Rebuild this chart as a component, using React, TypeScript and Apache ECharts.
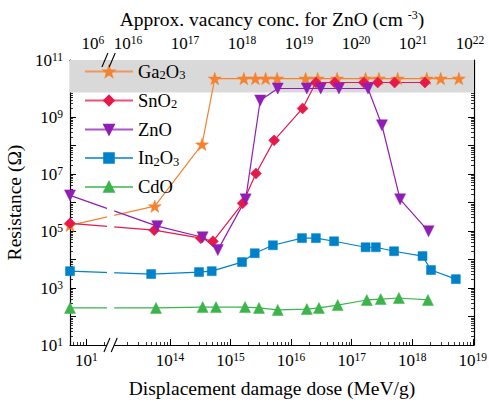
import React, { useEffect, useRef } from "react";
import * as echarts from "echarts";

const FONT = "Liberation Serif";

// ---------- data: log10 values ----------
// x = log10(displacement damage dose, MeV/g); first point of each series = unirradiated reference (left of the break)
// y = log10(resistance, ohm)
const seriesNames = ["Ga2O3", "SnO2", "ZnO", "In2O3", "CdO"];
const seriesColors = ["#f58231", "#e6194b", "#911eb4", "#0082c8", "#3cb44b"];

const ga2o3LogDose = [12.35, 13.75, 14.53, 14.74, 15.22, 15.41, 15.58, 15.77, 16.24, 16.44, 16.76, 17.23, 17.45, 17.76, 18.24, 18.47, 18.77];
const ga2o3LogR = [5.2, 5.87, 8.04, 10.35, 10.35, 10.35, 10.35, 10.35, 10.35, 10.35, 10.35, 10.35, 10.35, 10.35, 10.35, 10.35, 10.35];

const sno2LogDose = [12.35, 13.74, 14.51, 14.71, 15.2, 15.42, 15.72, 16.19, 16.41, 16.72, 17.2, 17.43, 17.71, 18.21];
const sno2LogR = [5.27, 5.03, 4.75, 4.64, 5.97, 7.02, 8.18, 9.3, 10.21, 10.21, 10.21, 10.21, 10.21, 10.21];

const znoLogDose = [12.35, 13.79, 14.54, 14.79, 15.25, 15.49, 15.78, 16.26, 16.49, 16.79, 17.27, 17.5, 17.8, 18.27];
const znoLogR = [6.25, 5.17, 4.78, 4.33, 6.11, 9.58, 10.0, 10.0, 10.0, 10.0, 10.0, 8.71, 6.11, 4.99];

const in2o3LogDose = [12.35, 13.69, 14.48, 14.69, 15.19, 15.4, 15.7, 16.18, 16.41, 16.71, 17.23, 17.4, 17.7, 18.17, 18.31, 18.72];
const in2o3LogR = [3.59, 3.49, 3.56, 3.59, 3.91, 4.22, 4.5, 4.75, 4.75, 4.64, 4.43, 4.43, 4.29, 4.12, 3.63, 3.31];

const cdoLogDose = [12.35, 13.77, 14.54, 14.76, 15.24, 15.47, 15.78, 16.26, 16.46, 16.77, 17.25, 17.48, 17.78, 18.26];
const cdoLogR = [2.3, 2.3, 2.33, 2.33, 2.33, 2.3, 2.23, 2.26, 2.3, 2.4, 2.58, 2.61, 2.65, 2.58];

// saturation band (log10 ohm)
const bandLogR = [9.86, 11];

// ---------- axes ----------
const bottomRange = [12.35, 19.02];
const topRange = [14.98, 22.07];
const yRange = [1, 11];
const breakRange = [12.96, 13.08]; // bottom-axis units

const bottomTickValues = [12.62, 14, 15, 16, 17, 18, 19];
const bottomTickTexts = ["1", "14", "15", "16", "17", "18", "19"];
const topTickValues = [15.38, 16, 17, 18, 19, 20, 21, 22];
const topTickTexts = ["6", "16", "17", "18", "19", "20", "21", "22"];
const yMajorValues = [1, 2, 3, 4, 5, 6, 7, 8, 9, 10, 11];
const yLabelValues = [1, 3, 5, 7, 9, 11];

const L = [2, 3, 4, 5, 6, 7, 8, 9].map((k) => Math.log10(k));

function minorList(fromDec: number, toDec: number, lo: number, hi: number) {
  const out: number[] = [];
  for (let n = fromDec; n <= toDec; n++) {
    for (const l of L) {
      const v = +(n + l).toFixed(4);
      if (v > lo && v < hi) out.push(v);
    }
  }
  return out;
}

const bottomMinor = [
  ...[11.62, 12.62].flatMap((m) => L.map((l) => +(m + l).toFixed(4))).filter((v) => v > bottomRange[0] && v < breakRange[0] - 0.02),
  ...minorList(13, 18, breakRange[1] + 0.02, bottomRange[1]),
];
const topMinor = [
  ...[14.38, 15.38].flatMap((m) => L.map((l) => +(m + l).toFixed(4))).filter((v) => v > topRange[0] && v < 15.6),
  ...minorList(15, 21, 15.82, topRange[1]),
];
const yMinor = minorList(1, 10, yRange[0], yRange[1]);

const STAR =
  "path://M0,-10 L2.35,-3.24 L9.51,-3.09 L3.8,1.24 L5.88,8.09 L0,4 L-5.88,8.09 L-3.8,1.24 L-9.51,-3.09 L-2.35,-3.24 Z";

const supRich = {
  b: { fontFamily: FONT, fontSize: 17, lineHeight: 19, color: "#000" },
  s: { fontFamily: FONT, fontSize: 11.5, lineHeight: 11, verticalAlign: "top", color: "#000" },
};

function pickText(values: number[], texts: string[], v: number) {
  const i = values.findIndex((t) => Math.abs(t - v) < 1e-6);
  return i < 0 ? "" : `{b|10}{s|${texts[i]}}`;
}

function legendText(name: string) {
  return name
    .split(/(\d)/)
    .filter((t) => t.length > 0)
    .map((t) => (/^\d$/.test(t) ? `{sub|${t}}` : `{n|${t}}`))
    .join("");
}

export default function App() {
  const ref = useRef<HTMLDivElement>(null);

  useEffect(() => {
    if (!ref.current) return;
    const chart = echarts.init(ref.current, undefined, { renderer: "svg" });

    const mk = (i: number, xs: number[], ys: number[], symbol: string, size: number, rotate = 0) => ({
      type: "line",
      name: seriesNames[i],
      xAxisIndex: 0,
      yAxisIndex: 0,
      data: xs.map((x, j) => [x, ys[j]]),
      symbol,
      symbolSize: size,
      symbolRotate: rotate,
      symbolKeepAspect: true,
      showAllSymbol: true,
      lineStyle: { color: seriesColors[i], width: 1.2 },
      itemStyle: { color: seriesColors[i], borderColor: seriesColors[i], borderWidth: 0.5 },
      z: 2,
      clip: true,
    });

    const minorAxisX = (pos: "bottom" | "top", range: number[], vals: number[]) => ({
      type: "value",
      position: pos,
      min: range[0],
      max: range[1],
      axisLine: { show: false },
      axisTick: { show: true, inside: true, length: 3, customValues: vals, lineStyle: { color: "#000", width: 0.8 } },
      axisLabel: { show: false },
      splitLine: { show: false },
    });
    const minorAxisY = (pos: "left" | "right") => ({
      type: "value",
      position: pos,
      min: yRange[0],
      max: yRange[1],
      axisLine: { show: false },
      axisTick: { show: true, inside: true, length: 3, customValues: yMinor, lineStyle: { color: "#000", width: 0.8 } },
      axisLabel: { show: false },
      splitLine: { show: false },
    });

    const option: any = {
      animation: false,
      backgroundColor: "#fff",
      textStyle: { fontFamily: FONT },
      grid: { left: 70, right: 15, top: 60, bottom: 58, containLabel: false, outerBoundsMode: "none" },
      legend: {
        data: seriesNames,
        orient: "vertical",
        left: 79,
        top: 57,
        itemWidth: 48,
        itemHeight: 12,
        itemGap: 9.5,
        z: 10,
        lineStyle: { width: 2, opacity: 0.75 },
        formatter: (name: string) => legendText(name),
        textStyle: {
          fontFamily: FONT,
          color: "#000",
          rich: {
            n: { fontFamily: FONT, fontSize: 18.5, lineHeight: 20, color: "#000" },
            sub: { fontFamily: FONT, fontSize: 12.5, lineHeight: 12, verticalAlign: "bottom", color: "#000" },
          },
        },
      },
      xAxis: [
        {
          type: "value",
          position: "bottom",
          min: bottomRange[0],
          max: bottomRange[1],
          name: "Displacement damage dose (MeV/g)",
          nameLocation: "middle",
          nameGap: 33,
          nameTextStyle: { fontFamily: FONT, fontSize: 19.5, color: "#000" },
          axisLine: { show: true, lineStyle: { color: "#000", width: 1.2 } },
          axisTick: { show: true, inside: true, length: 6, customValues: bottomTickValues, lineStyle: { color: "#000", width: 1 } },
          axisLabel: {
            show: true,
            margin: 6,
            fontFamily: FONT,
            customValues: bottomTickValues,
            formatter: (v: number) => pickText(bottomTickValues, bottomTickTexts, v),
            rich: supRich,
          },
          splitLine: { show: false },
        },
        minorAxisX("bottom", bottomRange, bottomMinor),
        {
          type: "value",
          position: "top",
          min: topRange[0],
          max: topRange[1],
          name: "{t|Approx. vacancy conc. for ZnO (cm }{s|-3}{t|)}",
          nameLocation: "middle",
          nameGap: 30,
          nameTextStyle: {
            fontFamily: FONT,
            fontSize: 19.5,
            color: "#000",
            rich: {
              t: { fontFamily: FONT, fontSize: 19.5, lineHeight: 21, color: "#000" },
              s: { fontFamily: FONT, fontSize: 12, lineHeight: 12, verticalAlign: "top", color: "#000" },
            },
          },
          axisLine: { show: true, lineStyle: { color: "#000", width: 1.2 } },
          axisTick: { show: true, inside: true, length: 6, customValues: topTickValues, lineStyle: { color: "#000", width: 1 } },
          axisLabel: {
            show: true,
            margin: 7,
            fontFamily: FONT,
            customValues: topTickValues,
            formatter: (v: number) => pickText(topTickValues, topTickTexts, v),
            rich: supRich,
          },
          splitLine: { show: false },
        },
        minorAxisX("top", topRange, topMinor),
      ],
      yAxis: [
        {
          type: "value",
          position: "left",
          min: yRange[0],
          max: yRange[1],
          name: "Resistance (Ω)",
          nameLocation: "middle",
          nameGap: 42,
          nameTextStyle: { fontFamily: FONT, fontSize: 19.5, color: "#000" },
          axisLine: { show: true, lineStyle: { color: "#000", width: 1.2 } },
          axisTick: { show: true, inside: true, length: 6, customValues: yMajorValues, lineStyle: { color: "#000", width: 1 } },
          axisLabel: {
            show: true,
            margin: 7,
            fontFamily: FONT,
            customValues: yLabelValues,
            formatter: (v: number) => `{b|10}{s|${Math.round(v)}}`,
            rich: supRich,
          },
          splitLine: { show: false },
        },
        minorAxisY("left"),
        {
          type: "value",
          position: "right",
          min: yRange[0],
          max: yRange[1],
          axisLine: { show: true, lineStyle: { color: "#000", width: 1.2 } },
          axisTick: { show: true, inside: true, length: 6, customValues: yMajorValues, lineStyle: { color: "#000", width: 1 } },
          axisLabel: { show: false },
          splitLine: { show: false },
        },
        minorAxisY("right"),
      ],
      series: [
        {
          type: "line",
          name: "band",
          xAxisIndex: 0,
          yAxisIndex: 0,
          data: [],
          z: 1,
          silent: true,
          markArea: {
            silent: true,
            itemStyle: { color: "#d9d9d9" },
            data: [[{ xAxis: bottomRange[0], yAxis: bandLogR[0] }, { xAxis: bottomRange[1], yAxis: bandLogR[1] }]],
          },
        },
        mk(0, ga2o3LogDose, ga2o3LogR, STAR, 13),
        mk(1, sno2LogDose, sno2LogR, "diamond", 11),
        mk(2, znoLogDose, znoLogR, "triangle", 11, 180),
        mk(3, in2o3LogDose, in2o3LogR, "rect", 9),
        mk(4, cdoLogDose, cdoLogR, "triangle", 11),
      ],
    };

    chart.setOption(option);

    // axis break decoration, positioned through the axis scales
    const x1 = chart.convertToPixel({ xAxisIndex: 0 }, breakRange[0]) as number;
    const x2 = chart.convertToPixel({ xAxisIndex: 0 }, breakRange[1]) as number;
    const yBand = chart.convertToPixel({ yAxisIndex: 0 }, bandLogR[0]) as number;
    const yBot = chart.convertToPixel({ yAxisIndex: 0 }, yRange[0]) as number;
    const yTop = chart.convertToPixel({ yAxisIndex: 0 }, yRange[1]) as number;
    const slash = (cx: number, cy: number) => ({
      type: "line",
      z: 20,
      shape: { x1: cx - 3, y1: cy + 7, x2: cx + 3, y2: cy - 7 },
      style: { stroke: "#000", lineWidth: 1.1 },
    });
    chart.setOption({
      graphic: [
        {
          type: "rect",
          z: 3,
          silent: true,
          shape: { x: x1, y: yBand + 1, width: x2 - x1, height: yBot - yBand + 2 },
          style: { fill: "#fff" },
        },
        slash(x1, yBot),
        slash(x2, yBot),
        slash(x1 - 2, yTop),
        slash(x2 - 2, yTop),
      ],
    });

    return () => chart.dispose();
  }, []);

  return <div ref={ref} style={{ position: "fixed", left: 0, top: 0, width: 489, height: 403 }} />;
}
